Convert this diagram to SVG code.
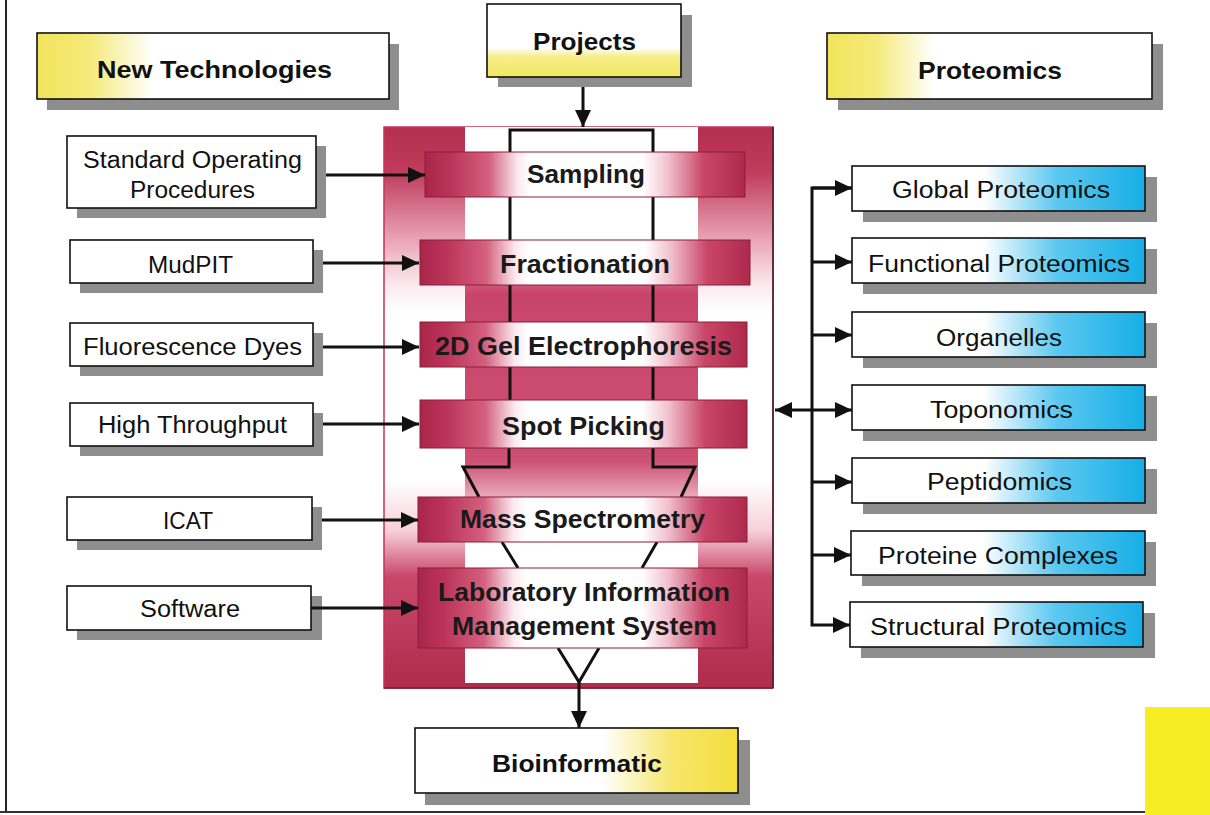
<svg xmlns="http://www.w3.org/2000/svg" width="1210" height="815" viewBox="0 0 1210 815">
  <style>
    .box { stroke: #111; stroke-width: 1.6; }
    .shadow { fill: #8e8e8e; }
    .lbl { font-family: "Liberation Sans", Arial, sans-serif; font-size: 23px; fill: #111; text-anchor: middle; }
    .hdr { font-family: "Liberation Sans", Arial, sans-serif; font-size: 24px; font-weight: bold; fill: #111; text-anchor: middle; }
    .stg { font-family: "Liberation Sans", Arial, sans-serif; font-size: 25px; font-weight: bold; fill: #1a1a1a; text-anchor: middle; }
    .bar { stroke: #8a1e38; stroke-width: 1; }
    .wire { stroke: #111; stroke-width: 3; fill: none; }
    .pipe { stroke: #111; stroke-width: 3; fill: none; }
  </style>
  <defs>
    <marker id="head" markerUnits="userSpaceOnUse" markerWidth="17" markerHeight="16" refX="17" refY="8" orient="auto-start-reverse">
      <path d="M0,0 L17,8 L0,16 Z" fill="#111"/>
    </marker>
    <linearGradient id="yLeft" x1="0" y1="0" x2="1" y2="0">
      <stop offset="0" stop-color="#f2e45c"/>
      <stop offset="0.15" stop-color="#f5ea7a"/>
      <stop offset="0.33" stop-color="#ffffff"/>
      <stop offset="1" stop-color="#ffffff"/>
    </linearGradient>
    <linearGradient id="yRight" x1="0" y1="0" x2="1" y2="0">
      <stop offset="0" stop-color="#ffffff"/>
      <stop offset="0.58" stop-color="#ffffff"/>
      <stop offset="0.8" stop-color="#f6e66a"/>
      <stop offset="1" stop-color="#f4de3c"/>
    </linearGradient>
    <linearGradient id="yBottom" x1="0" y1="0" x2="0" y2="1">
      <stop offset="0" stop-color="#ffffff"/>
      <stop offset="0.6" stop-color="#ffffff"/>
      <stop offset="0.72" stop-color="#f6ee8a"/>
      <stop offset="1" stop-color="#f3e75e"/>
    </linearGradient>
    <linearGradient id="cyan" x1="0" y1="0" x2="1" y2="0">
      <stop offset="0" stop-color="#ffffff"/>
      <stop offset="0.45" stop-color="#ffffff"/>
      <stop offset="0.7" stop-color="#5cc8f0"/>
      <stop offset="1" stop-color="#16aee6"/>
    </linearGradient>
    <linearGradient id="barFill" x1="0" y1="0" x2="1" y2="0">
      <stop offset="0" stop-color="#a8264a"/>
      <stop offset="0.08" stop-color="#bb3458"/>
      <stop offset="0.2" stop-color="#d4607e"/>
      <stop offset="0.29" stop-color="#fbeaf0"/>
      <stop offset="0.33" stop-color="#ffffff"/>
      <stop offset="0.68" stop-color="#ffffff"/>
      <stop offset="0.76" stop-color="#f1c0ce"/>
      <stop offset="0.87" stop-color="#c94668"/>
      <stop offset="1" stop-color="#ad2a4c"/>
    </linearGradient>
    <linearGradient id="frameFill" x1="0" y1="0" x2="0" y2="1">
      <stop offset="0" stop-color="#b32e4f"/>
      <stop offset="0.08" stop-color="#c03b5c"/>
      <stop offset="0.2" stop-color="#e9a3b6"/>
      <stop offset="0.28" stop-color="#fbe8ee"/>
      <stop offset="0.33" stop-color="#ffffff"/>
      <stop offset="0.63" stop-color="#ffffff"/>
      <stop offset="0.72" stop-color="#f6d0da"/>
      <stop offset="0.8" stop-color="#c9486a"/>
      <stop offset="1" stop-color="#b02b4c"/>
    </linearGradient>
    <linearGradient id="columnFill" x1="0" y1="0" x2="0" y2="1">
      <stop offset="0" stop-color="#ffffff"/>
      <stop offset="0.2" stop-color="#ffffff"/>
      <stop offset="0.26" stop-color="#d8728e"/>
      <stop offset="0.3" stop-color="#c8456a"/>
      <stop offset="0.6" stop-color="#cc5072"/>
      <stop offset="0.68" stop-color="#f0c0cd"/>
      <stop offset="0.73" stop-color="#ffffff"/>
      <stop offset="1" stop-color="#ffffff"/>
    </linearGradient>
  </defs>

  <!-- page frame -->
  <rect x="0" y="0" width="1210" height="815" fill="#ffffff"/>
  <line x1="6" y1="0" x2="6" y2="812" stroke="#222" stroke-width="2"/>
  <line x1="0" y1="812" x2="1145" y2="812" stroke="#333" stroke-width="2"/>
  <rect x="1145" y="707" width="65" height="108" fill="#f6ee22"/>

  <!-- process pipeline frame -->
  <g id="pipeline">
    <rect x="384" y="127" width="389" height="561" fill="url(#frameFill)" stroke="#c2345a" stroke-width="1.5"/>
    <line x1="773" y1="127" x2="773" y2="688" stroke="#3a1e26" stroke-width="1.5"/>
    <rect x="465" y="127" width="233" height="556" fill="url(#columnFill)"/>
    <line x1="384" y1="688" x2="773" y2="688" stroke="#7a1a30" stroke-width="1.5"/>
    <!-- inner channel walls -->
    <path class="pipe" d="M510,152 V130 H653 V152"/>
    <path class="pipe" d="M510,197 V240 M653,197 V240"/>
    <path class="pipe" d="M510,285 V322 M653,285 V322"/>
    <path class="pipe" d="M510,367 V400 M653,367 V400"/>
    <path class="pipe" d="M509,448 V467 H463 L479,497 M653,448 V467 H695 L681,497"/>
    <path class="pipe" d="M502,542 L518,568 M657,542 L642,568"/>
    <path class="pipe" d="M558,648 L579,682 L599,648"/>
  </g>

  <g id="sampling">
    <rect class="bar" x="425" y="152" width="320" height="45" fill="url(#barFill)"/>
    <text class="stg" x="586" y="183" textLength="118" lengthAdjust="spacingAndGlyphs">Sampling</text>
  </g>
  <g id="fractionation">
    <rect class="bar" x="420" y="240" width="330" height="45" fill="url(#barFill)"/>
    <text class="stg" x="585" y="273" textLength="170" lengthAdjust="spacingAndGlyphs">Fractionation</text>
  </g>
  <g id="gel">
    <rect class="bar" x="420" y="322" width="327" height="45" fill="url(#barFill)"/>
    <text class="stg" x="583.5" y="355" textLength="297" lengthAdjust="spacingAndGlyphs">2D Gel Electrophoresis</text>
  </g>
  <g id="spot-picking">
    <rect class="bar" x="420" y="400" width="327" height="48" fill="url(#barFill)"/>
    <text class="stg" x="583.5" y="435" textLength="163" lengthAdjust="spacingAndGlyphs">Spot Picking</text>
  </g>
  <g id="mass-spec">
    <rect class="bar" x="418" y="497" width="329" height="45" fill="url(#barFill)"/>
    <text class="stg" x="582.5" y="528" textLength="245" lengthAdjust="spacingAndGlyphs">Mass Spectrometry</text>
  </g>
  <g id="lims">
    <rect class="bar" x="418" y="568" width="329" height="80" fill="url(#barFill)"/>
    <text class="stg" x="584" y="601" textLength="292" lengthAdjust="spacingAndGlyphs">Laboratory Information</text>
    <text class="stg" x="584.5" y="635" textLength="265" lengthAdjust="spacingAndGlyphs">Management System</text>
  </g>

  <!-- headers -->
  <g id="new-technologies">
    <rect class="shadow" x="47" y="44" width="352" height="66"/>
    <rect class="box" x="37" y="33" width="352" height="66" fill="url(#yLeft)"/>
    <text class="hdr" x="214.5" y="78" textLength="235" lengthAdjust="spacingAndGlyphs">New Technologies</text>
  </g>
  <g id="projects">
    <rect class="shadow" x="498" y="15" width="194" height="72"/>
    <rect class="box" x="487" y="4" width="194" height="73" fill="url(#yBottom)"/>
    <text class="hdr" x="584.5" y="50" textLength="103" lengthAdjust="spacingAndGlyphs">Projects</text>
  </g>
  <g id="proteomics">
    <rect class="shadow" x="838" y="44" width="325" height="66"/>
    <rect class="box" x="827" y="33" width="325" height="66" fill="url(#yLeft)"/>
    <text class="hdr" x="990" y="79" textLength="144" lengthAdjust="spacingAndGlyphs">Proteomics</text>
  </g>
  <g id="bioinformatic">
    <rect class="shadow" x="425" y="740" width="325" height="65"/>
    <rect class="box" x="415" y="728" width="323" height="65" fill="url(#yRight)"/>
    <text class="hdr" x="577" y="772" textLength="170" lengthAdjust="spacingAndGlyphs">Bioinformatic</text>
  </g>

  <!-- technology inputs -->
  <g id="sop">
    <rect class="shadow" x="77" y="146" width="249" height="72"/>
    <rect class="box" x="67" y="136" width="249" height="72" fill="#fff"/>
    <text class="lbl" x="192.5" y="168" textLength="219" lengthAdjust="spacingAndGlyphs">Standard Operating</text>
    <text class="lbl" x="192.5" y="198" textLength="125" lengthAdjust="spacingAndGlyphs">Procedures</text>
  </g>
  <g id="mudpit">
    <rect class="shadow" x="80" y="250" width="243" height="43"/>
    <rect class="box" x="70" y="240" width="243" height="43" fill="#fff"/>
    <text class="lbl" x="190.5" y="273" textLength="85" lengthAdjust="spacingAndGlyphs">MudPIT</text>
  </g>
  <g id="fluorescence">
    <rect class="shadow" x="80" y="333" width="243" height="43"/>
    <rect class="box" x="70" y="323" width="243" height="43" fill="#fff"/>
    <text class="lbl" x="192.5" y="355" textLength="219" lengthAdjust="spacingAndGlyphs">Fluorescence Dyes</text>
  </g>
  <g id="high-throughput">
    <rect class="shadow" x="80" y="413" width="243" height="43"/>
    <rect class="box" x="70" y="403" width="243" height="43" fill="#fff"/>
    <text class="lbl" x="192.5" y="433" textLength="189" lengthAdjust="spacingAndGlyphs">High Throughput</text>
  </g>
  <g id="icat">
    <rect class="shadow" x="77" y="507" width="245" height="43"/>
    <rect class="box" x="67" y="497" width="245" height="43" fill="#fff"/>
    <text class="lbl" x="188" y="529" textLength="50" lengthAdjust="spacingAndGlyphs">ICAT</text>
  </g>
  <g id="software">
    <rect class="shadow" x="77" y="596" width="245" height="44"/>
    <rect class="box" x="67" y="586" width="244" height="44" fill="#fff"/>
    <text class="lbl" x="190" y="617" textLength="100" lengthAdjust="spacingAndGlyphs">Software</text>
  </g>

  <!-- proteomics fields -->
  <g id="global">
    <rect class="shadow" x="863" y="177" width="294" height="45"/>
    <rect class="box" x="852" y="166" width="293" height="45" fill="url(#cyan)"/>
    <text class="lbl" x="1001" y="198" textLength="218" lengthAdjust="spacingAndGlyphs">Global Proteomics</text>
  </g>
  <g id="functional">
    <rect class="shadow" x="863" y="249" width="294" height="45"/>
    <rect class="box" x="852" y="238" width="293" height="45" fill="url(#cyan)"/>
    <text class="lbl" x="999" y="272" textLength="262" lengthAdjust="spacingAndGlyphs">Functional Proteomics</text>
  </g>
  <g id="organelles">
    <rect class="shadow" x="863" y="323" width="294" height="45"/>
    <rect class="box" x="852" y="312" width="293" height="45" fill="url(#cyan)"/>
    <text class="lbl" x="999" y="346" textLength="126" lengthAdjust="spacingAndGlyphs">Organelles</text>
  </g>
  <g id="toponomics">
    <rect class="shadow" x="863" y="396" width="294" height="45"/>
    <rect class="box" x="852" y="385" width="293" height="45" fill="url(#cyan)"/>
    <text class="lbl" x="1001.5" y="418" textLength="143" lengthAdjust="spacingAndGlyphs">Toponomics</text>
  </g>
  <g id="peptidomics">
    <rect class="shadow" x="863" y="469" width="294" height="45"/>
    <rect class="box" x="852" y="458" width="293" height="45" fill="url(#cyan)"/>
    <text class="lbl" x="999.5" y="490" textLength="145" lengthAdjust="spacingAndGlyphs">Peptidomics</text>
  </g>
  <g id="complexes">
    <rect class="shadow" x="862" y="542" width="294" height="44"/>
    <rect class="box" x="851" y="531" width="294" height="44" fill="url(#cyan)"/>
    <text class="lbl" x="998" y="564" textLength="240" lengthAdjust="spacingAndGlyphs">Proteine Complexes</text>
  </g>
  <g id="structural">
    <rect class="shadow" x="861" y="613" width="294" height="45"/>
    <rect class="box" x="850" y="602" width="293" height="45" fill="url(#cyan)"/>
    <text class="lbl" x="998.5" y="635" textLength="257" lengthAdjust="spacingAndGlyphs">Structural Proteomics</text>
  </g>

  <!-- connectors -->
  <g id="connectors">
    <line class="wire" x1="583" y1="87" x2="583" y2="127" marker-end="url(#head)"/>
    <line class="wire" x1="579" y1="682" x2="579" y2="728" marker-end="url(#head)"/>

    <line class="wire" x1="326" y1="175" x2="425" y2="175" marker-end="url(#head)"/>
    <line class="wire" x1="323" y1="263" x2="419" y2="263" marker-end="url(#head)"/>
    <line class="wire" x1="323" y1="347" x2="419" y2="347" marker-end="url(#head)"/>
    <line class="wire" x1="323" y1="424" x2="419" y2="424" marker-end="url(#head)"/>
    <line class="wire" x1="322" y1="520" x2="418" y2="520" marker-end="url(#head)"/>
    <line class="wire" x1="311" y1="608" x2="418" y2="608" marker-end="url(#head)"/>

    <path class="wire" d="M852,188 H812 V625 H850" marker-end="url(#head)"/>
    <path class="wire" d="M852,188 H812" marker-start="url(#head)"/>
    <line class="wire" x1="812" y1="262" x2="852" y2="262" marker-end="url(#head)"/>
    <line class="wire" x1="812" y1="335" x2="852" y2="335" marker-end="url(#head)"/>
    <line class="wire" x1="775" y1="410" x2="852" y2="410" marker-start="url(#head)" marker-end="url(#head)"/>
    <line class="wire" x1="812" y1="482" x2="852" y2="482" marker-end="url(#head)"/>
    <line class="wire" x1="812" y1="555" x2="851" y2="555" marker-end="url(#head)"/>
  </g>
</svg>
